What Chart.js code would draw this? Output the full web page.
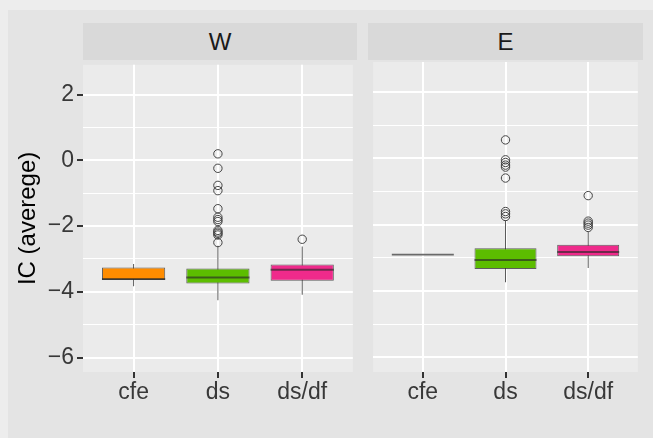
<!DOCTYPE html>
<html>
<head>
<meta charset="utf-8">
<script src="https://cdn.jsdelivr.net/npm/chart.js@4/dist/chart.umd.min.js"></script>
<style>
  html, body { margin: 0; padding: 0; }
  body { width: 653px; height: 438px; background: #ededed; position: relative; overflow: hidden;
         font-family: "Liberation Sans", Arial, sans-serif; }
  #plotbg { position: absolute; left: 8px; top: 10px; width: 645px; height: 428px; background: #e4e4e4; }
  .strip { position: absolute; top: 23px; height: 37px; background: #d9d9d9; color: #1a1a1a;
           font-size: 24px; line-height: 37px; text-align: center; }
  .panel { position: absolute; top: 48px; height: 380px; }
</style>
</head>
<body>
<div id="plotbg"></div>
<div class="strip" style="left:83px; width:274px;">W</div>
<div class="strip" style="left:368px; width:275px;">E</div>
<div class="panel" style="left:8px; width:350px;"><canvas id="chartW"></canvas></div>
<div class="panel" style="left:368px; width:275px;"><canvas id="chartE"></canvas></div>

<script>
// Groups on the x axis
const categories = ['cfe', 'ds', 'ds/df'];
const boxColors = ['#ff8c00', '#5cbd00', '#ef2a8b'];

// Y axis tick values
const yMajorTicks = [-6, -4, -2, 0, 2];
const yMinorTicks = [-5, -3, -1, 1];

// Panel W: five-number summaries per group
const wLower  = [-3.83, -4.26, -4.09];
const wQ1     = [-3.64, -3.75, -3.66];
const wMedian = [-3.61, -3.56, -3.33];
const wQ3     = [-3.26, -3.29, -3.17];
const wUpper  = [-3.15, -2.60, -2.62];
// Panel W: outliers per group
const wOutCfe  = [];
const wOutDs   = [0.20, -0.24, -0.76, -0.92, -1.47, -1.73, -1.80, -1.86, -2.13, -2.18, -2.22, -2.27, -2.50];
const wOutDsDf = [-2.40];

// Panel E: five-number summaries per group
const eLower  = [-2.90, -3.73, -3.30];
const eQ1     = [-2.90, -3.33, -2.95];
const eMedian = [-2.90, -3.06, -2.82];
const eQ3     = [-2.90, -2.71, -2.60];
const eUpper  = [-2.90, -1.86, -2.20];
// Panel E: outliers per group
const eOutCfe  = [];
const eOutDs   = [0.56, -0.04, -0.12, -0.20, -0.26, -0.59, -1.60, -1.67, -1.75];
const eOutDsDf = [-1.12, -1.89, -1.95, -2.01, -2.08];

const FONT = '"Liberation Sans", Arial, sans-serif';
const Y_MIN = -6.44, Y_MAX = 2.91;

const isMajor = (v) => yMajorTicks.includes(v);
const fmt = (v) => (v < 0 ? '\u2212' + Math.abs(v) : String(v));

// Panel background and median lines
const panelPlugin = {
  id: 'panelPlugin',
  beforeDraw(chart) {
    const a = chart.chartArea, ctx = chart.ctx;
    ctx.save();
    ctx.fillStyle = '#ebebeb';
    ctx.fillRect(a.left, a.top, a.right - a.left, a.bottom - a.top);
    ctx.restore();
  },
  afterDatasetsDraw(chart) {
    const ctx = chart.ctx, y = chart.scales.y;
    chart.data.datasets.forEach((ds, i) => {
      if (!ds.medians) return;
      const meta = chart.getDatasetMeta(i);
      meta.data.forEach((el, j) => {
        const py = y.getPixelForValue(ds.medians[j]);
        const half = el.width / 2;
        const flat = ds.lineOnly && ds.lineOnly[j];
        ctx.save();
        ctx.strokeStyle = flat ? '#6a6a6a' : 'rgba(40,40,40,0.65)';
        ctx.lineWidth = flat ? 1.6 : 2;
        ctx.beginPath();
        ctx.moveTo(el.x - half, py);
        ctx.lineTo(el.x + half, py);
        ctx.stroke();
        ctx.restore();
      });
    });
  }
};

function makeChart(canvasId, lower, q1, median, q3, upper, outliers, showY) {
  const idx = categories.map((_, i) => i);
  const outlierPoints = [];
  outliers.forEach((list, i) => list.forEach((v) => outlierPoints.push({ x: i, y: v })));

  return new Chart(document.getElementById(canvasId), {
    type: 'bar',
    data: {
      datasets: [
        {
          // whiskers
          type: 'bar',
          data: idx.map((i) => ({ x: i, y: [lower[i], upper[i]] })),
          backgroundColor: '#5a5a5a',
          borderWidth: 0,
          grouped: false,
          maxBarThickness: 1,
          order: 3
        },
        {
          // boxes (interquartile range)
          type: 'bar',
          data: idx.map((i) => ({ x: i, y: [q1[i], q3[i]] })),
          backgroundColor: boxColors,
          borderColor: 'rgba(45,45,45,0.75)',
          borderWidth: 1,
          borderSkipped: false,
          grouped: false,
          categoryPercentage: 1,
          barPercentage: 0.75,
          medians: median,
          lineOnly: idx.map((i) => q1[i] === q3[i]),
          order: 2
        },
        {
          // outliers
          type: 'scatter',
          data: outlierPoints,
          pointStyle: 'circle',
          pointRadius: 4.2,
          pointBackgroundColor: 'rgba(0,0,0,0)',
          pointBorderColor: '#444444',
          pointBorderWidth: 1,
          order: 1
        }
      ]
    },
    options: {
      responsive: true,
      maintainAspectRatio: false,
      animation: false,
      events: [],
      layout: { padding: { top: 14, right: showY ? 1 : 0, left: 0, bottom: 0 } },
      plugins: { legend: { display: false }, tooltip: { enabled: false } },
      scales: {
        x: {
          type: 'linear',
          min: -0.6,
          max: 2.6,
          offset: false,
          afterBuildTicks: (s) => { s.ticks = idx.map((v) => ({ value: v })); },
          afterFit: (s) => { s.height = 56; },
          border: { display: false },
          grid: { offset: false, color: '#ffffff', lineWidth: 2, tickColor: '#333333', tickLength: 6, tickWidth: 2 },
          ticks: {
            color: '#383838',
            font: { family: FONT, size: 23 },
            padding: 1,
            maxRotation: 0,
            autoSkip: false,
            callback: (v) => categories[v]
          }
        },
        y: {
          type: 'linear',
          min: Y_MIN,
          max: Y_MAX,
          afterBuildTicks: (s) => {
            s.ticks = yMajorTicks.concat(yMinorTicks).sort((a, b) => a - b).map((v) => ({ value: v }));
          },
          afterFit: (s) => { s.width = showY ? 75 : 0; },
          border: { display: false },
          grid: {
            color: '#ffffff',
            lineWidth: (c) => (c.tick && isMajor(c.tick.value) ? 2 : 1),
            drawTicks: showY,
            tickLength: 6,
            tickWidth: 2,
            tickColor: (c) => (c.tick && isMajor(c.tick.value) ? '#333333' : 'rgba(0,0,0,0)')
          },
          ticks: {
            display: showY,
            color: '#383838',
            font: { family: FONT, size: 23 },
            padding: 3,
            autoSkip: false,
            callback: (v) => (isMajor(v) ? fmt(v) : '')
          },
          title: {
            display: showY,
            text: 'IC (averege)',
            color: '#000000',
            font: { family: FONT, size: 24 },
            padding: { top: 6, bottom: 0 }
          }
        }
      }
    },
    plugins: [panelPlugin]
  });
}

makeChart('chartW', wLower, wQ1, wMedian, wQ3, wUpper, [wOutCfe, wOutDs, wOutDsDf], true);
makeChart('chartE', eLower, eQ1, eMedian, eQ3, eUpper, [eOutCfe, eOutDs, eOutDsDf], false);
</script>
</body>
</html>
